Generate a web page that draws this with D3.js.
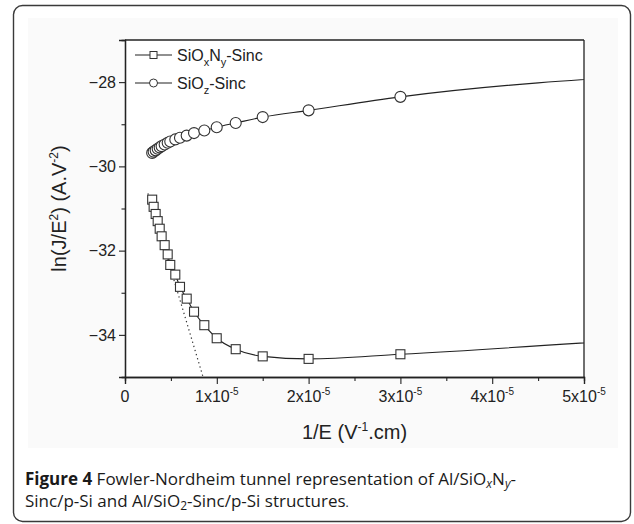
<!DOCTYPE html>
<html>
<head>
<meta charset="utf-8">
<script src="https://cdn.jsdelivr.net/npm/d3@7"></script>
<style>
  html, body { margin: 0; padding: 0; background: #ffffff; }
  svg { display: block; }
</style>
</head>
<body>
<svg id="chart" width="634" height="524"></svg>
<script>
// ---- data (x in units of 1e-5 V^-1.cm) ----
const xValues = [0.296, 0.312, 0.334, 0.356, 0.378, 0.399, 0.432, 0.465, 0.493, 0.548,
                 0.599, 0.672, 0.752, 0.864, 0.999, 1.206, 1.5, 2.0, 3.0, 6.0];
const sioxnyValues = [-30.79, -30.96, -31.13, -31.30, -31.48, -31.66, -31.87, -32.09, -32.34, -32.57,
                      -32.86, -33.14, -33.45, -33.77, -34.08, -34.34, -34.51, -34.57, -34.46, -34.04];
const sio2Values = [-29.68, -29.65, -29.62, -29.58, -29.55, -29.52, -29.48, -29.44, -29.41, -29.36,
                    -29.32, -29.27, -29.21, -29.15, -29.07, -28.97, -28.83, -28.67, -28.35, -27.80];
const fitX = [0.25, 0.90];
const fitY = [-30.64, -35.36];
const xTicks = [0, 1, 2, 3, 4, 5];
const xMinorTicks = [0.5, 1.5, 2.5, 3.5, 4.5];
const yTicks = [-34, -32, -30, -28];
const yMinorTicks = [-35, -33, -31, -29];

const svg = d3.select("#chart");
const m = { left: 125, right: 584, top: 40, bottom: 377 };

// frame
svg.append("rect").attr("x", 13.5).attr("y", 5.5).attr("width", 617).attr("height", 516)
  .attr("rx", 9).attr("fill", "#ffffff").attr("stroke", "#3a3a3a").attr("stroke-width", 1.4);
svg.append("rect").attr("x", 28).attr("y", 18).attr("width", 590).attr("height", 430)
  .attr("fill", "#fafafa");

const x = d3.scaleLinear().domain([0, 5]).range([m.left, m.right]);
const y = d3.scaleLinear().domain([-35, -27]).range([m.bottom, m.top]);

svg.append("rect").attr("x", m.left).attr("y", m.top)
  .attr("width", m.right - m.left).attr("height", m.bottom - m.top).attr("fill", "#ffffff");

svg.append("clipPath").attr("id", "clip").append("rect")
  .attr("x", m.left).attr("y", m.top).attr("width", m.right - m.left).attr("height", m.bottom - m.top);

const font = "'Liberation Sans', Arial, sans-serif";
const ink = "#222";

// axes
const xAxis = svg.append("g").attr("transform", `translate(0,${m.bottom})`);
xAxis.call(d3.axisBottom(x).tickValues(xTicks).tickSize(7).tickFormat(""));
xAxis.append("g").call(d3.axisBottom(x).tickValues(xMinorTicks).tickSize(4).tickFormat(""));
const yAxis = svg.append("g").attr("transform", `translate(${m.left},0)`);
yAxis.call(d3.axisLeft(y).tickValues(yTicks).tickSize(6).tickPadding(3).tickFormat(d => "\u2212" + Math.abs(d)));
yAxis.append("g").call(d3.axisLeft(y).tickValues(yMinorTicks).tickSize(3.5).tickFormat(""));
svg.selectAll(".domain").attr("stroke", ink).attr("stroke-width", 1.3);
svg.selectAll(".tick line").attr("stroke", ink).attr("stroke-width", 1.1);
yAxis.selectAll(".tick text").attr("font-family", font).attr("font-size", 16).attr("fill", ink);
// top & right frame lines
svg.append("line").attr("x1", m.left).attr("x2", m.right).attr("y1", m.top).attr("y2", m.top)
  .attr("stroke", ink).attr("stroke-width", 1.3);
svg.append("line").attr("x1", m.right).attr("x2", m.right).attr("y1", m.top).attr("y2", m.bottom)
  .attr("stroke", ink).attr("stroke-width", 1.3);

// x tick labels with superscripts
xTicks.forEach(t => {
  const tx = svg.append("text").attr("x", x(t)).attr("y", m.bottom + 25)
    .attr("text-anchor", "middle").attr("font-family", font).attr("font-size", 16).attr("fill", ink);
  if (t === 0) { tx.text("0"); }
  else {
    tx.append("tspan").text(t + "x10");
    tx.append("tspan").attr("dy", -7).attr("font-size", 10).text("-5");
  }
});

// axis titles
const xt = svg.append("text").attr("x", (m.left + m.right) / 2).attr("y", m.bottom + 62)
  .attr("text-anchor", "middle").attr("font-family", font).attr("font-size", 20).attr("fill", ink);
xt.append("tspan").text("1/E (V");
xt.append("tspan").attr("dy", -8).attr("font-size", 12).text("-1");
xt.append("tspan").attr("dy", 8).text(".cm)");

const yt = svg.append("text").attr("transform", `translate(66,${(m.top + m.bottom) / 2}) rotate(-90)`)
  .attr("text-anchor", "middle").attr("font-family", font).attr("font-size", 20).attr("fill", ink);
yt.append("tspan").text("ln(J/E");
yt.append("tspan").attr("dy", -8).attr("font-size", 12).text("2");
yt.append("tspan").attr("dy", 8).text(") (A.V");
yt.append("tspan").attr("dy", -8).attr("font-size", 12).text("-2");
yt.append("tspan").attr("dy", 8).text(")");

// plot
const plot = svg.append("g").attr("clip-path", "url(#clip)");
const fitData = fitX.map((d, i) => [d, fitY[i]]);
plot.append("path").datum(fitData)
  .attr("d", d3.line().x(d => x(d[0])).y(d => y(d[1])))
  .attr("fill", "none").attr("stroke", "#333").attr("stroke-width", 1.2).attr("stroke-dasharray", "1.3,3");

const line = d3.line().x(d => x(d[0])).y(d => y(d[1])).curve(d3.curveMonotoneX);
const sq = xValues.map((d, i) => [d, sioxnyValues[i]]);
const ci = xValues.map((d, i) => [d, sio2Values[i]]);
plot.append("path").datum(sq).attr("d", line).attr("fill", "none").attr("stroke", "#222").attr("stroke-width", 1.1);
plot.append("path").datum(ci).attr("d", line).attr("fill", "none").attr("stroke", "#222").attr("stroke-width", 1.1);

const S = 9;
plot.selectAll(".sq").data(sq).enter().append("rect")
  .attr("x", d => x(d[0]) - S / 2).attr("y", d => y(d[1]) - S / 2)
  .attr("width", S).attr("height", S)
  .attr("fill", "#fff").attr("stroke", "#333").attr("stroke-width", 1.1);
plot.selectAll(".ci").data(ci).enter().append("circle")
  .attr("cx", d => x(d[0])).attr("cy", d => y(d[1])).attr("r", 5.5)
  .attr("fill", "#fff").attr("stroke", "#333").attr("stroke-width", 1.1);

// legend
const legend = [
  { y: 55, type: "sq", parts: [["SiO", 0], ["x", 1], ["N", 0], ["y", 1], ["-Sinc", 0]] },
  { y: 83, type: "ci", parts: [["SiO", 0], ["z", 1], ["-Sinc", 0]] }
];
legend.forEach(l => {
  svg.append("line").attr("x1", 135).attr("x2", 172).attr("y1", l.y).attr("y2", l.y)
    .attr("stroke", "#222").attr("stroke-width", 1.1);
  if (l.type === "sq") {
    svg.append("rect").attr("x", 153.5 - 3.5).attr("y", l.y - 3.5).attr("width", 7).attr("height", 7)
      .attr("fill", "#fff").attr("stroke", "#333").attr("stroke-width", 1);
  } else {
    svg.append("circle").attr("cx", 153.5).attr("cy", l.y).attr("r", 4)
      .attr("fill", "#fff").attr("stroke", "#333").attr("stroke-width", 1);
  }
  const t = svg.append("text").attr("x", 177).attr("y", l.y + 5.5)
    .attr("font-family", font).attr("font-size", 16).attr("fill", ink);
  let sub = 0;
  l.parts.forEach(p => {
    const dy = (p[1] ? 5 : 0) - sub;
    sub = p[1] ? 5 : 0;
    t.append("tspan").attr("dy", dy).attr("font-size", p[1] ? 11 : 16).text(p[0]);
  });
});

// caption
const cf = "'Open Sans', 'Noto Sans', sans-serif";
const c1 = svg.append("text").attr("x", 25).attr("y", 485).attr("font-family", cf)
  .attr("font-size", 17).attr("fill", "#1a1a1a");
c1.append("tspan").attr("font-weight", "bold").text("Figure 4");
c1.append("tspan").text(" Fowler-Nordheim tunnel representation of Al/SiO");
c1.append("tspan").attr("dy", 3).attr("font-size", 12).attr("font-style", "italic").text("x");
c1.append("tspan").attr("dy", -3).text("N");
c1.append("tspan").attr("dy", 3).attr("font-size", 12).attr("font-style", "italic").text("y");
c1.append("tspan").attr("dy", -3).text("-");
const c2 = svg.append("text").attr("x", 25).attr("y", 507).attr("font-family", cf)
  .attr("font-size", 17).attr("fill", "#1a1a1a");
c2.append("tspan").text("Sinc/p-Si and Al/SiO");
c2.append("tspan").attr("dy", 3).attr("font-size", 12).text("2");
c2.append("tspan").attr("dy", -3).text("-Sinc/p-Si structures");
c2.append("tspan").attr("font-size", 12).text(".");
</script>
</body>
</html>
